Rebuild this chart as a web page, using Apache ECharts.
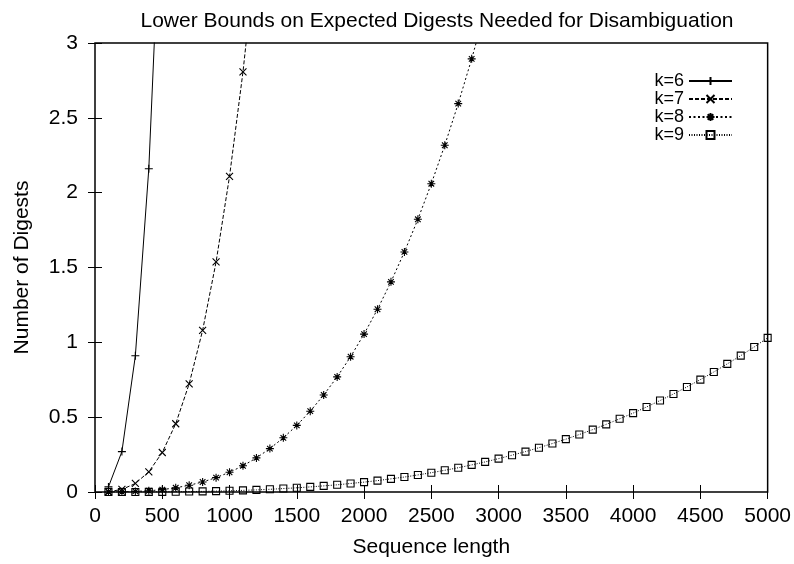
<!DOCTYPE html>
<html><head><meta charset="utf-8">
<script src="https://cdn.jsdelivr.net/npm/echarts@6/dist/echarts.min.js"></script>
<style>html,body{margin:0;padding:0;background:#fff}#c{width:794px;height:564px}</style>
</head><body><div id="c"></div>
<script>
const seqLen = [100,200,300,400,500,600,700,800,900,1000,
  1100,1200,1300,1400,1500,1600,1700,1800,1900,2000,
  2100,2200,2300,2400,2500,2600,2700,2800,2900,3000,
  3100,3200,3300,3400,3500,3600,3700,3800,3900,4000,
  4100,4200,4300,4400,4500,4600,4700,4800,4900,5000];
const k6 = [0.034,0.27,0.91,2.16,4.22];
const k7 = [0.002,0.017,0.057,0.135,0.264,0.456,0.723,1.08,1.537,2.109,2.807,3.644];
const k8 = [0.0001,0.001,0.004,0.008,0.016,0.028,0.045,0.067,0.096,0.132,0.175,0.228,0.290,0.362,0.445,0.540,0.648,0.769,0.904,1.055,1.221,1.404,1.604,1.822,2.060,2.317,2.595,2.894,3.215];
const k9 = [0,0,0,0.001,0.001,0.002,0.003,0.004,0.006,0.008,0.011,0.014,0.018,0.023,0.028,0.034,0.041,0.048,0.057,0.066,0.076,0.088,0.100,0.114,0.129,0.145,0.162,0.181,0.201,0.223,0.246,0.270,0.296,0.324,0.353,0.384,0.417,0.452,0.489,0.527,0.568,0.611,0.655,0.702,0.751,0.802,0.856,0.911,0.969,1.030];
const seriesNames = ['k=6','k=7','k=8','k=9'];
const titleText = 'Lower Bounds on Expected Digests Needed for Disambiguation';
const xName = 'Sequence length';
const yName = 'Number of Digests';

const FONT = "'Liberation Sans', Arial, Helvetica, sans-serif";
const chart = echarts.init(document.getElementById('c'), null, {renderer:'canvas'});
const pair = arr => arr.map((v,i)=>[seqLen[i], v]);
const symbols = [
  'path://M0,5L10,5M5,0L5,10',
  'path://M0,0L10,10M10,0L0,10',
  'path://M0,5L10,5M5,0L5,10M1.5,1.5L8.5,8.5M8.5,1.5L1.5,8.5',
  'path://M0,0L10,0L10,10L0,10Z'
];
const dashes = ['solid',[4,2],[2,2.5],[1,1.5]];
const sizes = [8,7,8,7];
const datas = [k6,k7,k8,k9];
const series = datas.map((d,i)=>({
  name: seriesNames[i], type:'line', data: pair(d),
  symbol: symbols[i], symbolSize: sizes[i], showSymbol:true, clip:true,
  lineStyle:{color:'#000', width:1, type:dashes[i]},
  itemStyle:{color:'rgba(0,0,0,0)', borderColor:'#000', borderWidth:1.1},
  emphasis:{disabled:true}, animation:false, z: 3
}));
const tickStyle = {inside:true, length:7, lineStyle:{color:'#000', width:1}};
const plain = v => String(v);
chart.setOption({
  animation:false,
  backgroundColor:'#fff',
  textStyle:{fontFamily:FONT},
  title:{text:titleText, left:432, top:6, textAlign:'center',
    textStyle:{fontFamily:FONT, fontSize:21, fontWeight:'normal', color:'#000'}},
  grid:{left:95, right:25, top:43, bottom:72, show:true, borderColor:'#000', borderWidth:1.5, backgroundColor:'transparent'},
  legend:{orient:'vertical', right:61, top:72, padding:0, align:'right', itemWidth:43, itemHeight:10, itemGap:0,
    textStyle:{fontFamily:FONT, fontSize:18, color:'#000', lineHeight:17.7},
    data: seriesNames, selectedMode:false},
  xAxis:[{type:'value', min:0, max:5000, interval:500, position:'bottom',
    axisLine:{show:false}, axisTick:tickStyle, splitLine:{show:false},
    axisLabel:{margin:14, color:'#000', fontSize:21, fontFamily:FONT, formatter:plain},
    name:xName, nameLocation:'middle', nameGap:45,
    nameTextStyle:{color:'#000', fontSize:21, fontFamily:FONT}},
   {type:'value', min:0, max:5000, interval:500, position:'top',
    axisLine:{show:false}, axisTick:tickStyle, splitLine:{show:false}, axisLabel:{show:false}}],
  yAxis:[{type:'value', min:0, max:3, interval:0.5, position:'left',
    axisLine:{show:false}, axisTick:tickStyle, splitLine:{show:false},
    axisLabel:{margin:17, color:'#000', fontSize:21, fontFamily:FONT, formatter:plain},
    name:yName, nameLocation:'middle', nameGap:62,
    nameTextStyle:{color:'#000', fontSize:21, fontFamily:FONT}},
   {type:'value', min:0, max:3, interval:0.5, position:'right',
    axisLine:{show:false}, axisTick:tickStyle, splitLine:{show:false}, axisLabel:{show:false}}],
  series: series
});
</script></body></html>
